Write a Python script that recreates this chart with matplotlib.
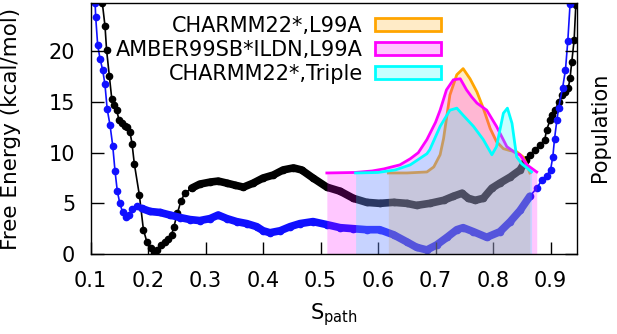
import numpy as np
import matplotlib
matplotlib.use("Agg")
import matplotlib.pyplot as plt
from matplotlib.patches import Patch

# free energy profiles (kcal/mol) vs S_path
black_x = [0.1205, 0.1252, 0.128, 0.1327, 0.137, 0.1414, 0.1456, 0.1496, 0.1543, 0.16, 0.164,
           0.1687, 0.1722, 0.1762, 0.185, 0.192, 0.198, 0.205, 0.21, 0.216, 0.222, 0.23, 0.235,
           0.241, 0.245, 0.251, 0.257, 0.264, 0.276, 0.29, 0.308, 0.322, 0.337, 0.351, 0.366,
           0.383, 0.40, 0.418, 0.435, 0.453, 0.467, 0.487, 0.511, 0.534, 0.557, 0.58, 0.603,
           0.627, 0.65, 0.667, 0.69, 0.714, 0.731, 0.746, 0.757, 0.769, 0.783, 0.798, 0.812,
           0.83, 0.847, 0.858, 0.864, 0.873, 0.882, 0.89, 0.893, 0.899, 0.902, 0.908, 0.914,
           0.92, 0.926, 0.931, 0.934, 0.937, 0.941, 0.944]
black_y = [24.8, 22.5, 20.1, 17.6, 15.3, 14.7, 14.2, 13.2, 12.9, 12.6, 12.5,
           12.0, 10.9, 8.9, 5.8, 2.4, 1.2, 0.56, 0.13, 0.4, 0.9, 1.2, 1.45,
           1.9, 2.7, 4.0, 5.2, 6.0, 6.5, 6.9, 7.1, 7.2, 7.0, 6.8, 6.6,
           7.0, 7.5, 7.8, 8.3, 8.5, 8.3, 7.5, 6.6, 6.2, 5.5, 5.1, 5.0,
           5.1, 5.0, 4.8, 5.0, 5.3, 5.7, 6.0, 5.5, 5.3, 5.5, 6.5, 7.0,
           7.6, 8.3, 9.3, 9.8, 10.3, 10.8, 11.3, 12.2, 13.2, 13.7, 14.2, 15.0,
           15.7, 16.0, 16.4, 17.4, 19.0, 21.1, 24.6]

blue_x = [0.108, 0.109, 0.1125, 0.1165, 0.121, 0.125, 0.129, 0.134, 0.1386, 0.1426, 0.1466,
          0.151, 0.156, 0.162, 0.1675, 0.173, 0.18, 0.189, 0.2035, 0.221, 0.238, 0.256,
          0.273, 0.29, 0.308, 0.322, 0.337, 0.354, 0.372, 0.389, 0.40, 0.412, 0.43, 0.447,
          0.464, 0.487, 0.511, 0.534, 0.557, 0.58, 0.603, 0.627, 0.65, 0.667, 0.685, 0.702,
          0.72, 0.737, 0.748, 0.766, 0.789, 0.812, 0.83, 0.847, 0.864, 0.876, 0.885, 0.893,
          0.90, 0.904, 0.907, 0.911, 0.914, 0.921, 0.926, 0.93, 0.934]
blue_y = [24.8, 23.4, 20.6, 19.3, 18.2, 16.8, 14.3, 12.7, 10.7, 8.2, 6.2,
          5.0, 4.1, 3.7, 3.9, 4.4, 4.7, 4.5, 4.2, 4.1, 3.85, 3.6,
          3.4, 3.3, 3.5, 3.85, 3.5, 3.2, 3.0, 2.7, 2.3, 2.1, 2.3, 2.7,
          3.0, 3.2, 2.9, 2.6, 2.5, 2.4, 2.4, 1.9, 1.2, 0.66, 0.4, 0.9,
          1.65, 2.4, 2.6, 2.2, 1.65, 2.2, 3.2, 4.3, 5.7, 6.5, 7.3, 7.7,
          8.3, 9.6, 11.4, 13.2, 14.4, 16.4, 18.2, 21.0, 24.7]

# population histograms (drawn on the same axes, baseline at 8)
orange_x = [0.618, 0.65, 0.685, 0.697, 0.708, 0.714, 0.725, 0.737, 0.748, 0.76, 0.772,
            0.783, 0.795, 0.806, 0.818, 0.83, 0.841, 0.852, 0.859, 0.864]
orange_y = [8.0, 8.0, 8.1, 8.6, 9.8, 11.4, 15.7, 17.7, 18.3, 17.3, 16.0,
            14.4, 12.4, 11.1, 10.4, 10.2, 10.1, 9.6, 8.8, 8.0]
magenta_x = [0.511, 0.56, 0.59, 0.61, 0.638, 0.656, 0.67, 0.685, 0.70, 0.708, 0.719, 0.731,
             0.743, 0.754, 0.763, 0.772, 0.789, 0.806, 0.824, 0.841, 0.847, 0.859, 0.876]
magenta_y = [8.0, 8.05, 8.2, 8.4, 8.8, 9.4, 10.0, 11.3, 13.0, 14.2, 16.2, 17.2,
             17.3, 16.2, 15.5, 14.9, 14.2, 12.6, 10.6, 9.9, 9.8, 8.8, 8.1]
cyan_x = [0.561, 0.6, 0.63, 0.656, 0.685, 0.69, 0.708, 0.725, 0.737, 0.748, 0.766, 0.783,
          0.798, 0.806, 0.818, 0.825, 0.833, 0.841, 0.85, 0.859, 0.867]
cyan_y = [8.0, 8.05, 8.3, 8.8, 9.9, 10.3, 12.6, 14.2, 14.4, 13.7, 12.6, 11.3,
          9.8, 10.6, 13.9, 14.4, 12.9, 9.6, 8.9, 8.5, 8.1]

labels = ["CHARMM22*,L99A", "AMBER99SB*ILDN,L99A", "CHARMM22*,Triple"]
colors = ["#ffa500", "#ff00ff", "#00ffff"]

plt.rcParams['font.family'] = 'DejaVu Sans'
plt.rcParams['mathtext.fontset'] = 'dejavusans'
plt.rcParams['font.size'] = 15

fig = plt.figure(figsize=(6.17, 3.34), dpi=100)
ax = fig.add_axes([0.1467, 0.2395, 0.789, 0.7515])

bx = np.array(black_x); by = np.array(black_y)
ux = np.array(blue_x); uy = np.array(blue_y)

ax.plot(bx, by, color="black", lw=1.2, marker="o", ms=4.5, zorder=1)
m = (bx > 0.265) & (bx < 0.86)
ax.plot(bx[m], by[m], color="black", lw=5.5, solid_capstyle="round", zorder=1)
ax.plot(ux, uy, color="#1010ff", lw=1.2, marker="o", ms=4.5, zorder=1)
m = (ux > 0.185) & (ux < 0.875)
ax.plot(ux[m], uy[m], color="#1010ff", lw=5.5, solid_capstyle="round", zorder=1)

for xs, ys, c in [(orange_x, orange_y, colors[0]), (magenta_x, magenta_y, colors[1]),
                  (cyan_x, cyan_y, colors[2])]:
    ax.fill_between(xs, 0, ys, color=c, alpha=0.22, lw=0, zorder=2)
    ax.plot(xs, ys, color=c, lw=2.0, zorder=2)

handles = [Patch(facecolor=matplotlib.colors.to_rgba(c, 0.22), edgecolor=c, lw=2.0) for c in colors]
ax.legend(handles, labels, loc="upper right", bbox_to_anchor=(0.72, 0.95), frameon=False,
          markerfirst=False, handlelength=3.15, handleheight=0.6, labelspacing=0.2,
          handletextpad=0.6, borderpad=0, borderaxespad=0, fontsize=15)

ax.set_xlim(0.1, 0.9466)
ax.set_ylim(0, 24.78)
ax.set_xticks([0.1, 0.2, 0.3, 0.4, 0.5, 0.6, 0.7, 0.8, 0.9])
ax.set_xticklabels(["0.1", "0.2", "0.3", "0.4", "0.5", "0.6", "0.7", "0.8", "0.9"])
ax.set_yticks([0, 5, 10, 15, 20])
ax.tick_params(direction="in", length=9, width=1, right=True, labelright=False)
ax.tick_params(axis="x", pad=12)
ax.tick_params(axis="y", pad=11)
for s in ax.spines.values():
    s.set_linewidth(1.0)

ax.set_xlabel(r"S$_{\rm path}$")
ax.xaxis.set_label_coords(0.5, -0.19)
ax.set_ylabel("Free Energy (kcal/mol)", fontsize=15.5)
ax.yaxis.set_label_coords(-0.143, 0.5)
fig.text(0.972, 0.62, "Population", rotation=90, ha="center", va="center", fontsize=15)

fig.savefig("out.png", dpi=100)
